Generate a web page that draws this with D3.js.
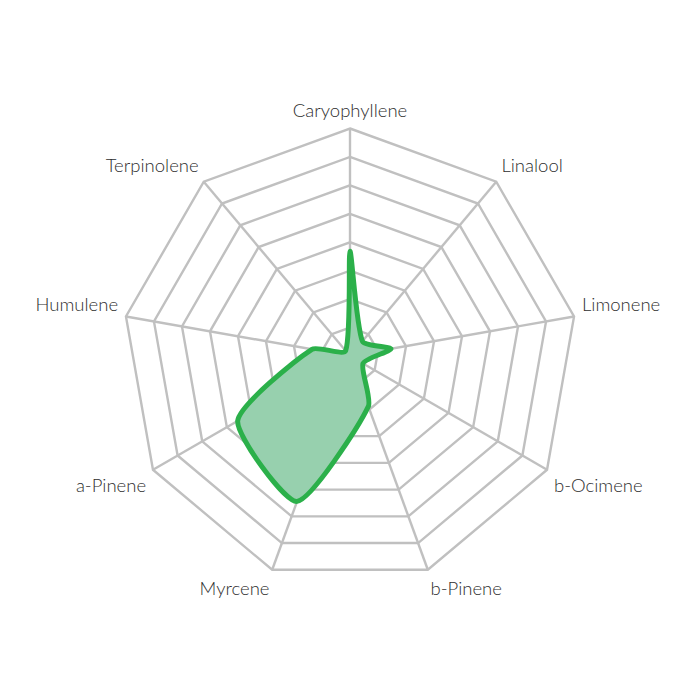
<!DOCTYPE html>
<html>
<head>
<meta charset="utf-8">
<script src="https://cdn.jsdelivr.net/npm/d3@7"></script>
<style>
  html, body { margin: 0; padding: 0; background: #fff; }
  #chart { width: 700px; height: 700px; }
  .label { font-family: Lato, "Open Sans", sans-serif; font-weight: 300; font-size: 18.5px; fill: #2e2e2e; }
</style>
</head>
<body>
<div id="chart"></div>
<script>
// Terpene profile, clockwise from the top
const terpenes = ['Caryophyllene', 'Linalool', 'Limonene', 'b-Ocimene', 'b-Pinene', 'Myrcene', 'a-Pinene', 'Humulene', 'Terpinolene'];
const amounts = [0.46, 0.085, 0.183, 0.066, 0.236, 0.68, 0.57, 0.17, 0.03];
const levels = [1, 2, 3, 4, 5, 6, 7, 8];
const maxValue = 1;

const width = 700;
const height = 700;
const cx = 350;
const cy = 356;
const radius = 227.5;

// spline like the one Chart.js uses for line tension (distance weighted)
function tensionSpline(t) {
  return function (context) {
    let pts = [];
    return {
      areaStart() {},
      areaEnd() {},
      lineStart() { pts = []; },
      point(x, y) { pts.push([+x, +y]); },
      lineEnd() {
        const n = pts.length;
        const cps = pts.map((p, i) => {
          const a = pts[(i - 1 + n) % n];
          const b = pts[(i + 1) % n];
          const d01 = Math.hypot(p[0] - a[0], p[1] - a[1]);
          const d12 = Math.hypot(b[0] - p[0], b[1] - p[1]);
          const s = d01 + d12 || 1;
          const fa = t * d01 / s;
          const fb = t * d12 / s;
          return {
            prev: [p[0] - fa * (b[0] - a[0]), p[1] - fa * (b[1] - a[1])],
            next: [p[0] + fb * (b[0] - a[0]), p[1] + fb * (b[1] - a[1])],
          };
        });
        context.moveTo(pts[0][0], pts[0][1]);
        for (let i = 0; i < n; i++) {
          const j = (i + 1) % n;
          context.bezierCurveTo(cps[i].next[0], cps[i].next[1], cps[j].prev[0], cps[j].prev[1], pts[j][0], pts[j][1]);
        }
        context.closePath();
      },
    };
  };
}

function drawRadar() {
  const svg = d3.select('#chart').append('svg').attr('width', width).attr('height', height);
  const g = svg.append('g').attr('transform', `translate(${cx},${cy})`);

  const angle = d3.scaleLinear().domain([0, terpenes.length]).range([0, 2 * Math.PI]);
  const r = d3.scaleLinear().domain([0, maxValue]).range([0, radius]);
  const ringValue = d3.scaleLinear().domain([0, levels.length]).range([0, maxValue]);

  // grid rings
  const ring = d3.lineRadial()
    .angle((d, i) => angle(i))
    .radius((d) => r(d))
    .curve(d3.curveLinearClosed);

  g.selectAll('.ring')
    .data(levels)
    .enter()
    .append('path')
    .attr('class', 'ring')
    .attr('d', (lv) => ring(terpenes.map(() => ringValue(lv))))
    .attr('fill', 'none')
    .attr('stroke', '#c0c0c0')
    .attr('stroke-width', 2.4);

  // spokes
  g.selectAll('.spoke')
    .data(terpenes)
    .enter()
    .append('line')
    .attr('class', 'spoke')
    .attr('x1', 0)
    .attr('y1', 0)
    .attr('x2', (d, i) => r(maxValue) * Math.sin(angle(i)))
    .attr('y2', (d, i) => -r(maxValue) * Math.cos(angle(i)))
    .attr('stroke', '#c0c0c0')
    .attr('stroke-width', 2.4);

  // data area
  const area = d3.lineRadial()
    .angle((d, i) => angle(i))
    .radius((d) => r(d))
    .curve(tensionSpline(0.2));

  g.append('path')
    .datum(amounts)
    .attr('d', area)
    .attr('fill', '#97d0ae')
    .attr('stroke', '#2bb04a')
    .attr('stroke-width', 5)
    .attr('stroke-linejoin', 'round');

  // labels
  const labelR = radius + 8;
  g.selectAll('.label')
    .data(terpenes)
    .enter()
    .append('text')
    .attr('class', 'label')
    .attr('x', (d, i) => labelR * Math.sin(angle(i)))
    .attr('y', (d, i) => -labelR * Math.cos(angle(i)))
    .attr('dy', (d, i) => {
      const deg = (angle(i) * 180) / Math.PI;
      return deg < 90 || deg > 270 ? -4 : 18;
    })
    .attr('text-anchor', (d, i) => {
      const deg = Math.round((angle(i) * 180) / Math.PI);
      if (deg === 0 || deg === 180) return 'middle';
      return deg < 180 ? 'start' : 'end';
    })
    .text((d) => d);
}

document.addEventListener('DOMContentLoaded', drawRadar);
</script>
</body>
</html>
